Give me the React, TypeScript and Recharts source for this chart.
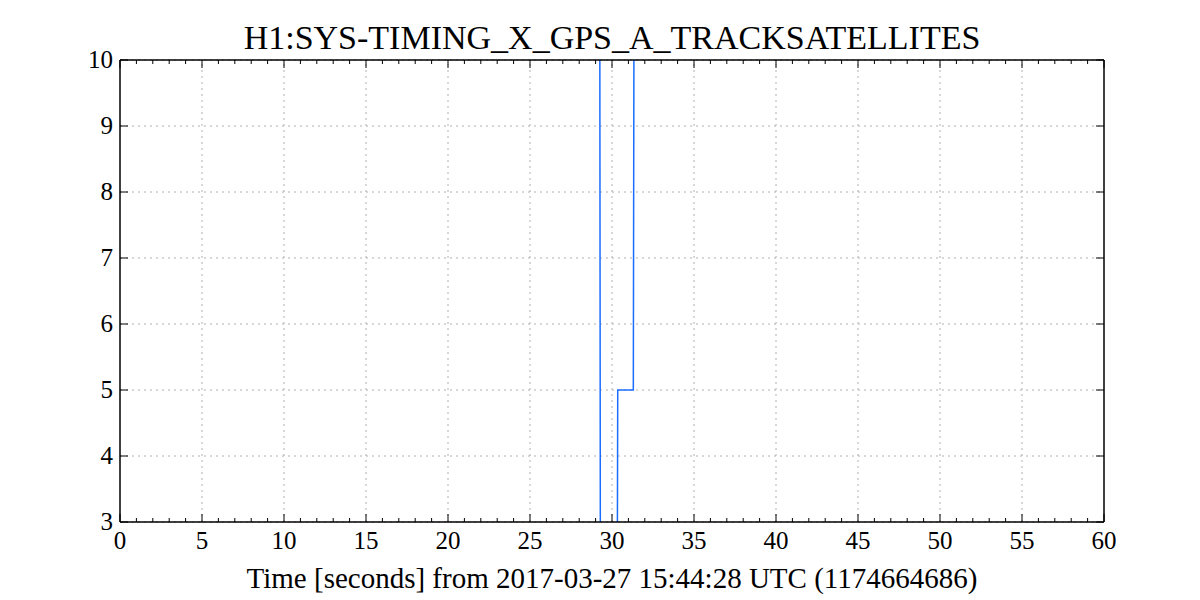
import React from 'react';
import {
  ComposedChart,
  Line,
  XAxis,
  YAxis,
  ReferenceLine,
  CartesianGrid,
} from 'recharts';

// time [s] vs tracked satellite count (values above 10 / below 3 are clipped)
const times = [0, 29.25, 29.3, 30.3, 30.35, 31.3, 31.35, 60];
const satellites = [12, 12, 0, 0, 5, 5, 12, 12];

const xMajorTicks = [0, 5, 10, 15, 20, 25, 30, 35, 40, 45, 50, 55, 60];
const xAllTicks = Array.from({ length: 61 }, (_, i) => i);
const yTicks = [3, 4, 5, 6, 7, 8, 9, 10];

const TITLE = 'H1:SYS-TIMING_X_GPS_A_TRACKSATELLITES';
const X_LABEL = 'Time [seconds] from 2017-03-27 15:44:28 UTC (1174664686)';

const data = times.map((t, i) => ({ t, v: satellites[i] }));

const FONT = "'Liberation Serif', 'DejaVu Serif', serif";
const tickText = { fontFamily: FONT, fontSize: 25, fill: '#000' };

const BottomTick = (props: any) => {
  const { x, y, payload } = props;
  const major = payload.value % 5 === 0;
  return (
    <g>
      <line x1={x} x2={x} y1={y} y2={y - (major ? 8 : 4)} stroke="#000" strokeWidth={1} />
      {major && (
        <text x={x} y={y + 27} textAnchor="middle" style={tickText}>
          {payload.value}
        </text>
      )}
    </g>
  );
};

const TopTick = (props: any) => {
  const { x, y, payload } = props;
  const major = payload.value % 5 === 0;
  return <line x1={x} x2={x} y1={y} y2={y + (major ? 8 : 4)} stroke="#000" strokeWidth={1} />;
};

const LeftTick = (props: any) => {
  const { x, y, payload } = props;
  return (
    <g>
      <line x1={x} x2={x + 8} y1={y} y2={y} stroke="#000" strokeWidth={1} />
      <text x={x - 7} y={y + 8} textAnchor="end" style={tickText}>
        {payload.value}
      </text>
    </g>
  );
};

const RightTick = (props: any) => {
  const { x, y } = props;
  return <line x1={x} x2={x - 8} y1={y} y2={y} stroke="#000" strokeWidth={1} />;
};

const axisLine = { stroke: '#000', strokeWidth: 1.5 };

export default function App() {
  return (
    <div style={{ position: 'absolute', left: 0, top: 0, width: 1200, height: 600, background: '#fff' }}>
      <div
        style={{
          position: 'absolute',
          left: 120,
          width: 984,
          top: 18,
          textAlign: 'center',
          fontFamily: FONT,
          fontSize: 34,
          lineHeight: '40px',
          color: '#000',
        }}
      >
        {TITLE}
      </div>
      <ComposedChart
        width={1200}
        height={600}
        data={data}
        margin={{ top: 50, right: 86, bottom: 48, left: 80 }}
      >
        <CartesianGrid
          vertical={false}
          yAxisId="left"
          stroke="#b0b0b0"
          strokeDasharray="2 4"
        />
        <XAxis
          xAxisId="bottom"
          type="number"
          dataKey="t"
          domain={[0, 60]}
          ticks={xAllTicks}
          interval={0}
          allowDataOverflow
          height={30}
          tickSize={0}
          tickMargin={0}
          tickLine={false}
          axisLine={axisLine}
          tick={<BottomTick />}
        />
        <XAxis
          xAxisId="top"
          orientation="top"
          type="number"
          dataKey="t"
          domain={[0, 60]}
          ticks={xAllTicks}
          interval={0}
          allowDataOverflow
          height={10}
          tickSize={0}
          tickMargin={0}
          tickLine={false}
          axisLine={axisLine}
          tick={<TopTick />}
        />
        <YAxis
          yAxisId="left"
          type="number"
          domain={[3, 10]}
          ticks={yTicks}
          interval={0}
          allowDataOverflow
          width={40}
          tickSize={0}
          tickMargin={0}
          tickLine={false}
          axisLine={axisLine}
          tick={<LeftTick />}
        />
        <YAxis
          yAxisId="right"
          orientation="right"
          type="number"
          domain={[3, 10]}
          ticks={yTicks}
          interval={0}
          allowDataOverflow
          width={10}
          tickSize={0}
          tickMargin={0}
          tickLine={false}
          axisLine={axisLine}
          tick={<RightTick />}
        />
        {xMajorTicks.slice(1, -1).map((t) => (
          <ReferenceLine
            key={t}
            x={t}
            xAxisId="bottom"
            yAxisId="left"
            stroke="#b0b0b0"
            strokeDasharray="2 4"
          />
        ))}
        <Line
          xAxisId="bottom"
          yAxisId="left"
          type="linear"
          dataKey="v"
          stroke="#1a6dff"
          strokeWidth={1.5}
          dot={false}
          isAnimationActive={false}
        />
      </ComposedChart>
      <div
        style={{
          position: 'absolute',
          left: 120,
          width: 984,
          top: 560,
          textAlign: 'center',
          fontFamily: FONT,
          fontSize: 29,
          lineHeight: '36px',
          color: '#000',
        }}
      >
        {X_LABEL}
      </div>
    </div>
  );
}
